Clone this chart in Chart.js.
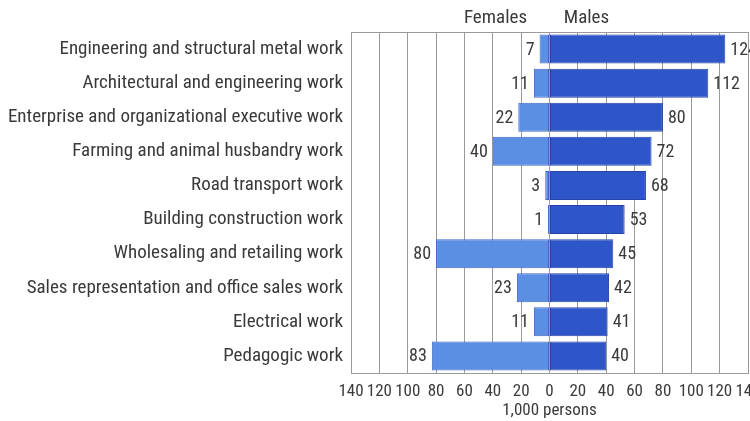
<!DOCTYPE html>
<html>
<head>
<meta charset="utf-8">
<script src="https://cdn.jsdelivr.net/npm/chart.js@4.4.0/dist/chart.umd.min.js"></script>
<style>
  html, body { margin: 0; padding: 0; background: #fff; overflow: hidden; }
  #wrap { width: 800px; height: 421px; }
</style>
</head>
<body>
<div id="wrap"><canvas id="occChart" width="800" height="421"></canvas></div>
<script>
const occupations = [
  'Engineering and structural metal work',
  'Architectural and engineering work',
  'Enterprise and organizational executive work',
  'Farming and animal husbandry work',
  'Road transport work',
  'Building construction work',
  'Wholesaling and retailing work',
  'Sales representation and office sales work',
  'Electrical work',
  'Pedagogic work'
];
const females = [7, 11, 22, 40, 3, 1, 80, 23, 11, 83];
const males = [124, 112, 80, 72, 68, 53, 45, 42, 41, 40];
const tickValues = [-140, -120, -100, -80, -60, -40, -20, 0, 20, 40, 60, 80, 100, 120, 140];

const FONT = '"Roboto Condensed", "DejaVu Sans Condensed", sans-serif';
const TEXT = '#3a3a3a';

// labels at the bar ends + top headings + frame
const extras = {
  id: 'extras',
  afterDatasetsDraw(chart) {
    const c = chart.ctx;
    const area = chart.chartArea;
    c.save();
    c.strokeStyle = '#9a9a9a';
    c.lineWidth = 1;
    c.beginPath();
    c.moveTo(area.left, area.top + 0.5);
    c.lineTo(area.right, area.top + 0.5);
    c.stroke();

    c.font = '18px ' + FONT;
    c.fillStyle = TEXT;
    c.textBaseline = 'middle';
    chart.getDatasetMeta(0).data.forEach((bar, i) => {
      c.textAlign = 'right';
      c.fillText(String(females[i]), bar.x - 5, bar.y + 1);
    });
    chart.getDatasetMeta(1).data.forEach((bar, i) => {
      c.textAlign = 'left';
      c.fillText(String(males[i]), bar.x + 5, bar.y + 1);
    });

    c.font = '19px ' + FONT;
    c.textAlign = 'center';
    const zero = chart.scales.x.getPixelForValue(0);
    c.fillText('Females', zero - 54, 18);
    c.fillText('Males', zero + 37, 18);
    c.restore();
  }
};

new Chart(document.getElementById('occChart'), {
  type: 'bar',
  data: {
    labels: occupations,
    datasets: [
      {
        label: 'Females',
        data: females.map(v => -v),
        backgroundColor: '#5b8fe3',
        borderColor: '#3f66c4',
        borderWidth: 1,
        borderSkipped: false
      },
      {
        label: 'Males',
        data: males,
        backgroundColor: '#2f56c9',
        borderColor: '#2444a8',
        borderWidth: 1,
        borderSkipped: false
      }
    ]
  },
  options: {
    indexAxis: 'y',
    responsive: false,
    animation: false,
    layout: { padding: { top: 32, right: 52, left: 0, bottom: 0 } },
    datasets: { bar: { categoryPercentage: 1, barPercentage: 0.85 } },
    plugins: {
      legend: { display: false },
      tooltip: { enabled: false }
    },
    scales: {
      x: {
        stacked: true,
        min: -140,
        max: 140,
        afterBuildTicks(scale) { scale.ticks = tickValues.map(v => ({ value: v })); },
        afterFit(scale) { scale.height = 48; },
        grid: { color: '#9a9a9a', drawTicks: false, lineWidth: 1 },
        border: { color: '#9a9a9a' },
        ticks: {
          color: TEXT,
          padding: 9,
          maxRotation: 0,
          autoSkip: false,
          font: { family: FONT, size: 17 },
          callback: v => Math.abs(v)
        },
        title: {
          display: true,
          text: '1,000 persons',
          color: TEXT,
          padding: { top: 0, bottom: 0 },
          font: { family: FONT, size: 17 }
        }
      },
      y: {
        stacked: true,
        afterFit(scale) { scale.width = 351; },
        grid: { display: false },
        border: { color: '#9a9a9a' },
        ticks: {
          color: TEXT,
          padding: 0,
          font: { family: FONT, size: 19 }
        }
      }
    }
  },
  plugins: [extras]
});
</script>
</body>
</html>
